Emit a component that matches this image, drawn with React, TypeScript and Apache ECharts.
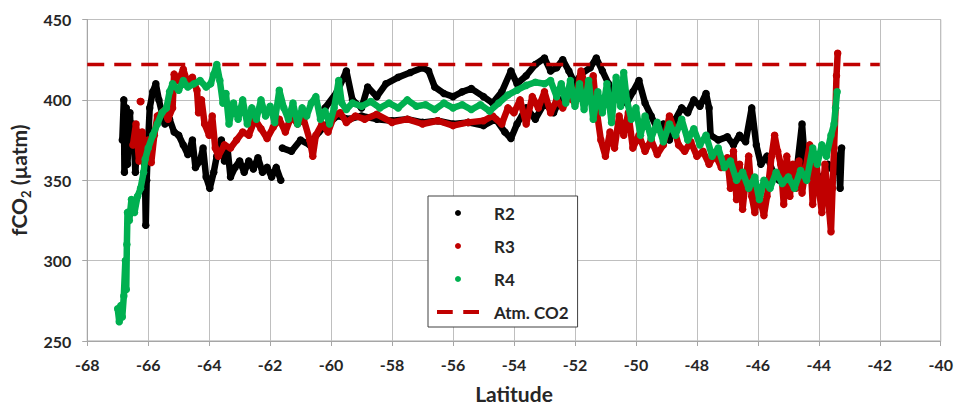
import React, { useEffect, useRef } from "react";
import * as echarts from "echarts";

const xTicks = { min: -68, max: -40, interval: 2 };
const yTicks = { min: 250, max: 450, interval: 50 };

const atmCO2: number[][] = [[-68, 422], [-42, 422]];

// R2: west segment
const r2a: number[][] = [
  [-66.85, 375], [-66.8, 400], [-66.78, 355], [-66.72, 395], [-66.68, 360], [-66.6, 392], [-66.55, 370],
  [-66.5, 385], [-66.42, 355], [-66.35, 380], [-66.25, 365], [-66.15, 372], [-66.1, 345], [-66.08, 322],
  [-66.05, 350], [-66.0, 375], [-65.95, 395], [-65.85, 405], [-65.75, 410], [-65.65, 400], [-65.55, 392],
  [-65.45, 385], [-65.3, 388], [-65.15, 380], [-65.0, 378], [-64.85, 372], [-64.7, 366], [-64.55, 375],
  [-64.45, 358], [-64.3, 362], [-64.2, 370], [-64.1, 352], [-63.98, 345], [-63.85, 355], [-63.75, 365],
  [-63.6, 375], [-63.5, 362], [-63.4, 370], [-63.3, 352], [-63.15, 358], [-63.0, 362], [-62.85, 355],
  [-62.7, 362], [-62.55, 357], [-62.4, 364], [-62.25, 355], [-62.1, 358], [-61.95, 352], [-61.8, 358],
  [-61.65, 350],
];
// R2: lower band
const r2b: number[][] = [
  [-61.6, 370], [-61.3, 368], [-61.0, 375], [-60.7, 372], [-60.4, 380], [-60.1, 385], [-59.8, 390],
  [-59.4, 388], [-59.0, 390], [-58.5, 388], [-58.0, 387], [-57.5, 388], [-57.0, 386], [-56.5, 387],
  [-56.0, 385], [-55.5, 386], [-55.0, 384], [-54.6, 388], [-54.3, 380], [-54.1, 376], [-53.9, 385],
  [-53.6, 395], [-53.3, 388], [-53.0, 398], [-52.7, 392], [-52.5, 400],
];
// R2: upper band and east
const r2c: number[][] = [
  [-60.2, 395], [-59.8, 405], [-59.5, 418], [-59.3, 400], [-59.0, 395], [-58.8, 408], [-58.5, 402],
  [-58.2, 410], [-57.8, 414], [-57.4, 417], [-57.0, 420], [-56.8, 418], [-56.6, 408], [-56.3, 404],
  [-56.0, 402], [-55.7, 405], [-55.4, 407], [-55.0, 402], [-54.7, 398], [-54.4, 405], [-54.1, 418],
  [-53.9, 410], [-53.6, 415], [-53.3, 422], [-53.0, 426], [-52.8, 418], [-52.6, 420], [-52.4, 425],
  [-52.2, 418], [-52.0, 410], [-51.8, 416], [-51.5, 420], [-51.3, 426], [-51.1, 418], [-50.9, 410],
  [-50.7, 400], [-50.5, 405], [-50.3, 398], [-50.1, 405], [-49.9, 412], [-49.7, 398], [-49.5, 390],
  [-49.3, 382], [-49.1, 385], [-48.9, 375], [-48.7, 388], [-48.5, 395], [-48.3, 392], [-48.1, 400],
  [-47.9, 396], [-47.7, 404], [-47.6, 395], [-47.55, 378], [-47.3, 375], [-47.0, 377], [-46.8, 372],
  [-46.6, 378], [-46.4, 374], [-46.2, 395], [-46.05, 372], [-45.9, 360], [-45.7, 365], [-45.5, 355],
  [-45.3, 350], [-45.1, 348], [-44.9, 355], [-44.7, 360], [-44.55, 385], [-44.45, 360], [-44.3, 365],
  [-44.1, 355], [-43.9, 350], [-43.7, 360], [-43.5, 355], [-43.35, 365], [-43.3, 345], [-43.25, 370],
  [-43.4, 358],
];

const r3dot: number[][] = [[-66.26, 399], [-66.24, 399]];
const r3: number[][] = [
  [-66.5, 372], [-66.4, 385], [-66.3, 362], [-66.2, 380], [-66.1, 365], [-66.0, 375], [-65.9, 361],
  [-65.8, 378], [-65.7, 390], [-65.5, 393], [-65.35, 388], [-65.2, 395], [-65.15, 416], [-65.0, 412],
  [-64.85, 419], [-64.7, 410], [-64.55, 414], [-64.4, 406], [-64.35, 392], [-64.25, 400], [-64.15, 385],
  [-64.0, 378], [-63.9, 390], [-63.8, 370], [-63.7, 365], [-63.5, 372], [-63.3, 370], [-63.1, 375],
  [-62.9, 380], [-62.7, 378], [-62.5, 388], [-62.3, 382], [-62.1, 376], [-61.9, 383], [-61.7, 388],
  [-61.5, 380], [-61.3, 390], [-61.1, 385], [-60.9, 388], [-60.7, 375], [-60.6, 365], [-60.5, 378],
  [-60.3, 385], [-60.1, 380], [-59.9, 390], [-59.7, 392], [-59.5, 386], [-59.2, 390], [-58.9, 388],
  [-58.5, 391], [-58.0, 386], [-57.5, 388], [-57.0, 385], [-56.5, 387], [-56.0, 384], [-55.5, 386],
  [-55.0, 387], [-54.7, 390], [-54.4, 385], [-54.2, 395], [-54.0, 392], [-53.8, 400], [-53.6, 385],
  [-53.4, 402], [-53.2, 395], [-53.0, 405], [-52.8, 392], [-52.6, 400], [-52.4, 395], [-52.2, 402],
  [-52.0, 398], [-51.8, 418], [-51.6, 405], [-51.4, 415], [-51.3, 395], [-51.15, 375], [-51.0, 365],
  [-50.85, 380], [-50.7, 370], [-50.55, 390], [-50.4, 378], [-50.25, 392], [-50.1, 370], [-49.9, 378],
  [-49.7, 368], [-49.5, 375], [-49.3, 366], [-49.1, 372], [-48.9, 390], [-48.75, 382], [-48.6, 372],
  [-48.4, 368], [-48.2, 374], [-48.0, 365], [-47.8, 368], [-47.6, 360], [-47.4, 366], [-47.2, 358],
  [-47.0, 364], [-46.9, 345], [-46.8, 368], [-46.7, 338], [-46.6, 360], [-46.5, 332], [-46.4, 350],
  [-46.3, 365], [-46.2, 340], [-46.1, 330], [-46.0, 345], [-45.9, 336], [-45.8, 328], [-45.7, 340],
  [-45.55, 365], [-45.45, 378], [-45.35, 368], [-45.25, 360], [-45.15, 335], [-45.05, 365], [-44.95, 340],
  [-44.85, 360], [-44.75, 345], [-44.65, 362], [-44.55, 342], [-44.45, 355], [-44.3, 372], [-44.2, 335],
  [-44.1, 365], [-44.0, 345], [-43.9, 330], [-43.8, 360], [-43.7, 340], [-43.6, 318], [-43.55, 345],
  [-43.5, 370], [-43.45, 395], [-43.42, 415], [-43.38, 429],
];

const r4: number[][] = [
  [-67.0, 270], [-66.95, 262], [-66.9, 272], [-66.85, 265], [-66.8, 278], [-66.75, 300], [-66.72, 282],
  [-66.7, 310], [-66.68, 330], [-66.62, 325], [-66.55, 338], [-66.45, 330], [-66.35, 340], [-66.25, 345],
  [-66.15, 355], [-66.1, 363], [-66.0, 370], [-65.85, 378], [-65.7, 385], [-65.55, 392], [-65.4, 395],
  [-65.3, 405], [-65.2, 410], [-65.0, 406], [-64.85, 412], [-64.7, 408], [-64.5, 410], [-64.3, 412],
  [-64.1, 408], [-63.95, 410], [-63.85, 416], [-63.75, 422], [-63.65, 412], [-63.55, 398], [-63.45, 404],
  [-63.35, 385], [-63.2, 398], [-63.05, 388], [-62.9, 400], [-62.75, 385], [-62.6, 395], [-62.45, 388],
  [-62.3, 400], [-62.15, 390], [-62.0, 396], [-61.85, 386], [-61.7, 406], [-61.55, 395], [-61.4, 388],
  [-61.25, 398], [-61.1, 385], [-60.95, 395], [-60.8, 390], [-60.65, 398], [-60.5, 402], [-60.35, 388],
  [-60.2, 393], [-60.05, 385], [-59.9, 395], [-59.75, 412], [-59.65, 398], [-59.5, 394], [-59.3, 398],
  [-59.0, 396], [-58.7, 399], [-58.4, 395], [-58.1, 398], [-57.8, 395], [-57.5, 400], [-57.2, 396],
  [-56.9, 397], [-56.6, 394], [-56.3, 398], [-56.0, 395], [-55.7, 397], [-55.4, 394], [-55.1, 397],
  [-54.8, 393], [-54.5, 398], [-54.2, 403], [-53.9, 406], [-53.6, 409], [-53.3, 411], [-53.0, 410],
  [-52.8, 412], [-52.6, 402], [-52.45, 410], [-52.3, 398], [-52.15, 412], [-52.0, 396], [-51.85, 410],
  [-51.7, 394], [-51.55, 412], [-51.4, 388], [-51.25, 405], [-51.1, 392], [-50.95, 410], [-50.8, 386],
  [-50.65, 414], [-50.5, 396], [-50.4, 417], [-50.3, 400], [-50.15, 388], [-50.0, 395], [-49.85, 378],
  [-49.7, 390], [-49.5, 376], [-49.3, 386], [-49.1, 374], [-48.9, 385], [-48.7, 378], [-48.5, 388],
  [-48.3, 375], [-48.1, 382], [-47.9, 372], [-47.7, 378], [-47.5, 365], [-47.3, 370], [-47.1, 358],
  [-46.9, 362], [-46.7, 350], [-46.5, 355], [-46.3, 345], [-46.1, 352], [-45.95, 338], [-45.8, 350],
  [-45.6, 345], [-45.4, 355], [-45.2, 348], [-45.0, 352], [-44.8, 345], [-44.6, 356], [-44.4, 350],
  [-44.2, 370], [-44.05, 360], [-43.9, 372], [-43.75, 365], [-43.6, 378], [-43.5, 385], [-43.45, 395],
  [-43.4, 405],
];

const COLORS = { R2: "#000000", R3: "#c00000", R4: "#00b050", atm: "#c00000" };
const FONT = "Lato, 'Open Sans', sans-serif";

function track(name: string, color: string, data: number[][], z: number) {
  return {
    name,
    type: "line",
    data,
    z,
    showSymbol: true,
    symbol: "circle",
    symbolSize: 7.5,
    color,
    itemStyle: { color, borderWidth: 0 },
    lineStyle: { color, width: 6.5, cap: "round", join: "round" },
    silent: true,
  };
}

export default function App() {
  const ref = useRef<HTMLDivElement>(null);
  useEffect(() => {
    if (!ref.current) return;
    const chart = echarts.init(ref.current, null, { renderer: "svg" });
    const axisGray = "#a6a6a6";
    chart.setOption({
      animation: false,
      backgroundColor: "#ffffff",
      grid: {
        left: 87, right: 15, top: 19.5, bottom: 66,
        show: true, borderColor: axisGray, borderWidth: 1,
      },
      xAxis: {
        type: "value",
        ...xTicks,
        name: "Latitude",
        nameLocation: "middle",
        nameGap: 42,
        nameTextStyle: { fontFamily: FONT, fontWeight: "bold", fontSize: 21, color: "#262626" },
        axisLine: { show: true, lineStyle: { color: axisGray } },
        axisTick: { show: true, length: 5, lineStyle: { color: axisGray } },
        axisLabel: { margin: 15, fontFamily: FONT, fontWeight: "bold", fontSize: 16, color: "#262626" },
        splitLine: { show: true, lineStyle: { color: "#bfbfbf", width: 1 } },
      },
      yAxis: {
        type: "value",
        ...yTicks,
        name: "{a|fCO}{b|2}{a| (µatm)}",
        nameLocation: "middle",
        nameGap: 46,
        nameTextStyle: {
          fontFamily: FONT, fontWeight: "bold", fontSize: 21, color: "#262626",
          rich: {
            a: { fontFamily: FONT, fontWeight: "bold", fontSize: 21, color: "#262626", lineHeight: 28, verticalAlign: "middle" },
            b: { fontFamily: FONT, fontWeight: "bold", fontSize: 13, color: "#262626", lineHeight: 28, verticalAlign: "bottom" },
          },
        },
        axisLine: { show: true, lineStyle: { color: axisGray } },
        axisTick: { show: true, length: 5, lineStyle: { color: axisGray } },
        axisLabel: { margin: 16, fontFamily: FONT, fontWeight: "bold", fontSize: 16, color: "#262626" },
        splitLine: { show: true, lineStyle: { color: "#bfbfbf", width: 1 } },
      },
      legend: {
        orient: "vertical",
        left: 428,
        top: 196,
        z: 20,
        padding: [8, 9, 6, 9],
        itemGap: 15,
        itemWidth: 42,
        itemHeight: 6,
        borderColor: "#404040",
        borderWidth: 1,
        backgroundColor: "#ffffff",
        selectedMode: false,
        textStyle: {
          fontFamily: FONT, fontWeight: "bold", fontSize: 17, color: "#262626",
          lineHeight: 18, padding: [0, 0, 0, 10],
        },
        data: [
          { name: "R2", icon: "circle" },
          { name: "R3", icon: "circle" },
          { name: "R4", icon: "circle" },
          { name: "Atm. CO2", icon: "path://M0,0h15v4h-15z M25,0h15v4h-15z" },
        ],
      },
      series: [
        track("R2", COLORS.R2, r2a, 2),
        track("R2", COLORS.R2, r2b, 2),
        track("R2", COLORS.R2, r2c, 2),
        track("R3", COLORS.R3, r3dot, 3),
        track("R3", COLORS.R3, r3, 3),
        track("R4", COLORS.R4, r4, 4),
        {
          name: "Atm. CO2",
          type: "line",
          data: atmCO2,
          z: 5,
          showSymbol: false,
          color: COLORS.atm,
          itemStyle: { color: COLORS.atm },
          lineStyle: { color: COLORS.atm, width: 3.5, type: [17, 10] },
          silent: true,
        },
      ],
    });
    return () => chart.dispose();
  }, []);
  return (
    <div
      ref={ref}
      style={{ position: "fixed", left: 0, top: 0, width: 956, height: 409, background: "#fff" }}
    />
  );
}
